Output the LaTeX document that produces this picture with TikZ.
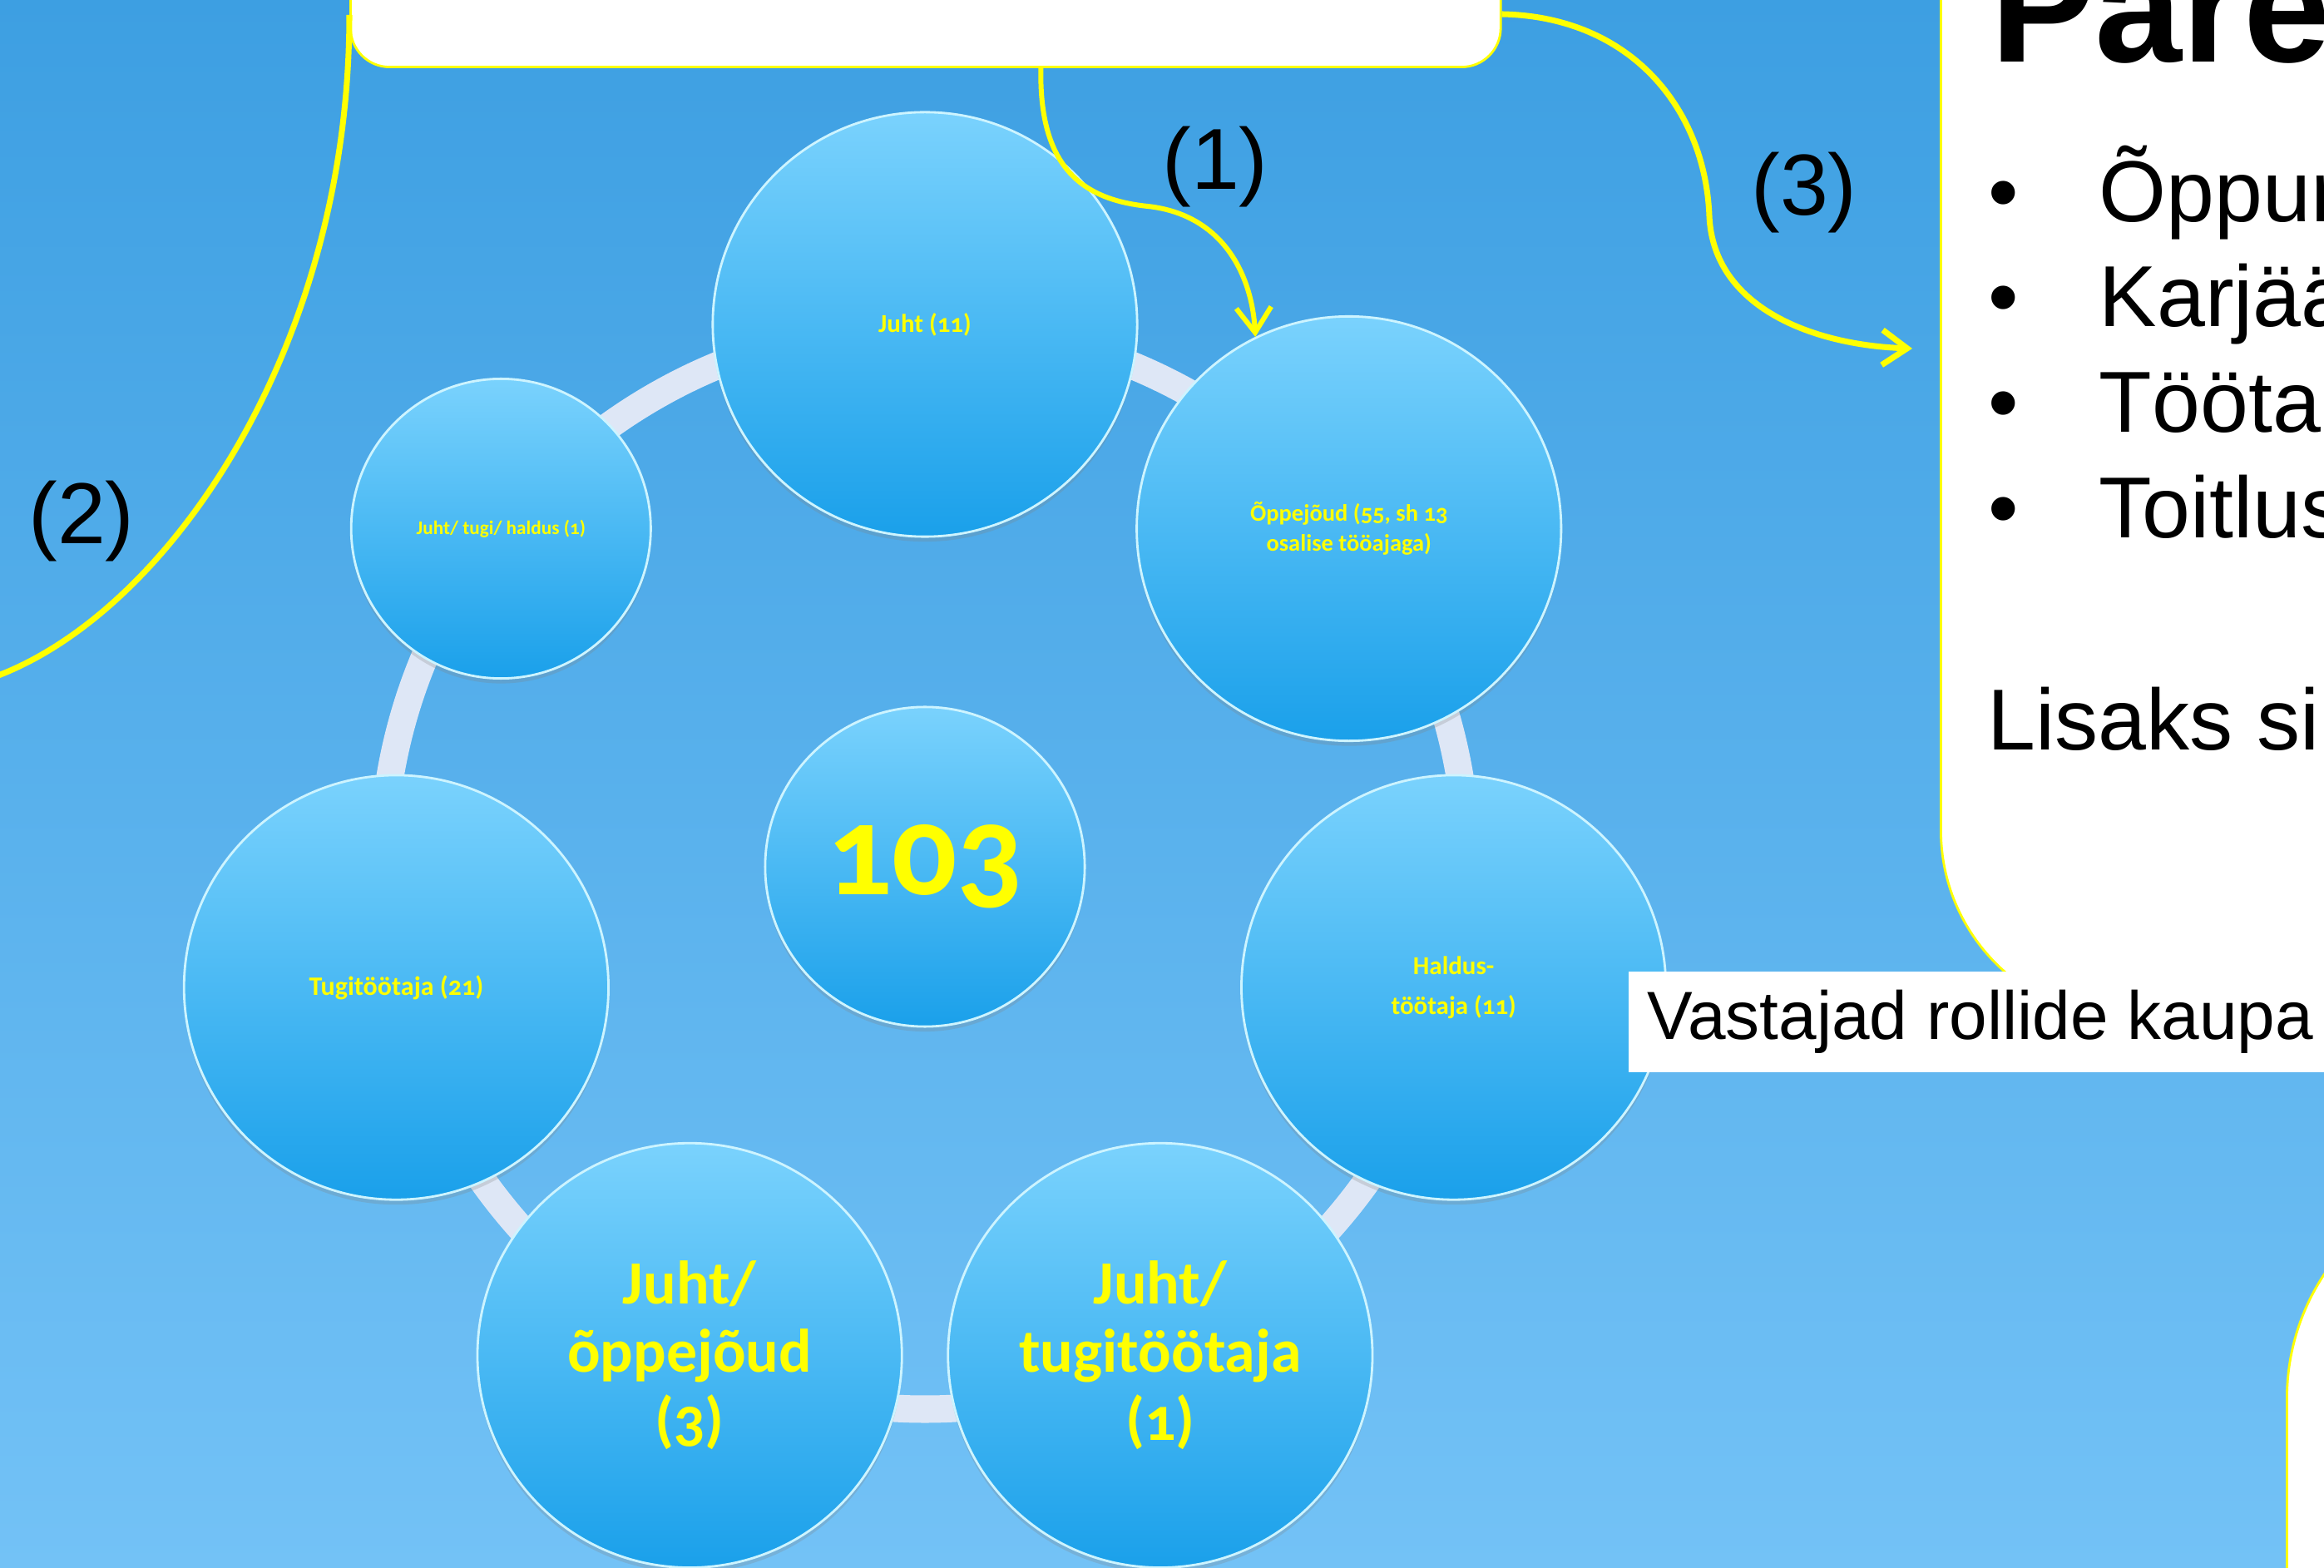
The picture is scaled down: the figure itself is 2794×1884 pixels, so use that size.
\documentclass[tikz,border=0pt]{standalone}
\usepackage{fontspec}
\usepackage{tikz}
\usetikzlibrary{arrows.meta}
\usetikzlibrary{calc}
\usetikzlibrary{shadows}

\newfontfamily\bubfont{Carlito}[Numbers=OldStyle]
\newfontfamily\arialfont{Liberation Sans}
\newcommand{\bubsize}[2]{\bubfont\bfseries\fontsize{#1}{#2}\selectfont}

\definecolor{bgtop}{RGB}{61,159,226}
\definecolor{bgbot}{RGB}{115,194,246}
\definecolor{bubtop}{RGB}{122,210,253}
\definecolor{bubbot}{RGB}{26,160,234}
\definecolor{bubrim}{RGB}{205,244,255}
\definecolor{ringcol}{RGB}{222,231,246}
\definecolor{hiyel}{RGB}{255,255,0}

\tikzset{
  bubble/.style={circle, minimum size=5.1cm, inner sep=0pt, top color=bubtop, bottom color=bubbot,
    draw=bubrim, line width=0.8pt, text=hiyel, align=center,
    drop shadow={shadow xshift=0pt, shadow yshift=-0.06cm, opacity=0.25}},
  panel/.style={draw=hiyel, line width=0.8pt, fill=white, inner sep=0pt, anchor=south west},
  link/.style={draw=hiyel, line width=2pt},
  tip/.style={-{Straight Barb[length=0.3cm, width=0.42cm]}},
  tag/.style={font=\arialfont\fontsize{29.6}{34}\selectfont, text=black, inner sep=0pt}
}

\begin{document}
\begin{tikzpicture}[x=0.01cm, y=0.01cm]
\useasboundingbox (0,0) rectangle (2794,1884);
\clip (0,0) rectangle (2794,1884);

% First, the blue slide background
\shade[top color=bgtop, bottom color=bgbot] (0,0) rectangle (2794,1884);

% White panels, only partly inside the picture
\node[panel, rounded corners=0.47cm, minimum width=13.82cm, minimum height=3cm] (topbox) at (420,1802) {};
\node[panel, rounded corners=2.26cm, minimum width=8cm, minimum height=16cm] (rightbox) at (2332,658) {};
\node[panel, rounded corners=2.71cm, minimum width=6cm, minimum height=8cm] (lowbox) at (2748,-328) {};

% The ring, and seven points on it for the role circles
\coordinate (mid) at (1112,842);
\draw[ringcol, line width=0.33cm] (mid) circle[radius=652];
\foreach \k in {0,...,6} { \coordinate (p\k) at ($(mid)+({90-\k*360/7}:652)$); }

\node[bubble, font=\bubsize{8.8}{10.5}] (juht) at (p0) {Juht (11)};
\node[bubble, font=\bubsize{8.1}{10.2}] (oppe) at (p1) {Õppejõud (55, sh 13\\osalise tööajaga)};
\node[bubble, font=\bubsize{8.8}{13.7}] (haldus) at (p2) {Haldus-\\töötaja (11)};
\node[bubble, font=\bubsize{21}{23.3}] (jtugi) at (p3) {Juht/\\tugitöötaja\\(1)};
\node[bubble, font=\bubsize{21}{23.3}] (joppe) at (p4) {Juht/\\õppejõud\\(3)};
\node[bubble, font=\bubsize{9.1}{11}] (tugi) at (p5) {Tugitöötaja (21)};
\node[bubble, minimum size=3.6cm, font=\bubsize{6.6}{8}] (jth) at (p6) {Juht/ tugi/ haldus (1)};
\node[bubble, minimum size=3.84cm, font=\bubsize{44}{50}] (total) at (mid) {103};

% Yellow connectors out of the top panel
\coordinate (s1) at ($(topbox.south west)!0.6!(topbox.south east)$);
\coordinate (bend1) at (1380,1636);
\draw[link, line width=1.7pt, tip] (s1) .. controls (1249,1684) and (1300,1644) .. (bend1)
  .. controls (1470,1626) and (1505,1554) .. (oppe.116);

\coordinate (s2) at ($(topbox.south west)+(0,64)$);
\coordinate (e2) at (-10,1069);
\draw[link] (s2) .. controls (420,1464) and (200,1144) .. (e2);

\coordinate (s3) at ($(topbox.south east)+(0,65)$);
\coordinate (bend3) at (2055,1624);
\coordinate (e3) at ($(rightbox.south west)+(-33,807)$);
\draw[link, tip] (s3) .. controls (1960,1864) and (2050,1754) .. (bend3)
  .. controls (2060,1514) and (2180,1469) .. (e3);

\node[tag] (n1) at (1461,1683) {(1)};
\node[tag] (n2) at (98,1257) {(2)};
\node[tag] (n3) at (2169,1652) {(3)};

% Text of the right panel, cut by the picture edge
\node[tag, font=\arialfont\bfseries\fontsize{53.5}{60}\selectfont, anchor=base west] (head) at (2393,1809) {Päre};
\foreach \y/\w [count=\i] in {1617/Õppur, 1491/Karjää, 1364/Tööta, 1237/Toitlus} {
  \node[tag, anchor=base] (dot\i) at (2409,\y) {•};
  \node[tag, anchor=base west] (item\i) at (2523,\y) {\w};
}
\node[tag, anchor=base west] (extra) at (2389,982) {Lisaks si};

% Caption box over the circles
\node[fill=white, anchor=west, inner xsep=0.23cm, inner ysep=0pt, minimum height=1.21cm,
  font=\arialfont\fontsize{23.3}{28}\selectfont] (legend) at (1957,655.5) {Vastajad rollide kaupa};
\end{tikzpicture}
\end{document}
